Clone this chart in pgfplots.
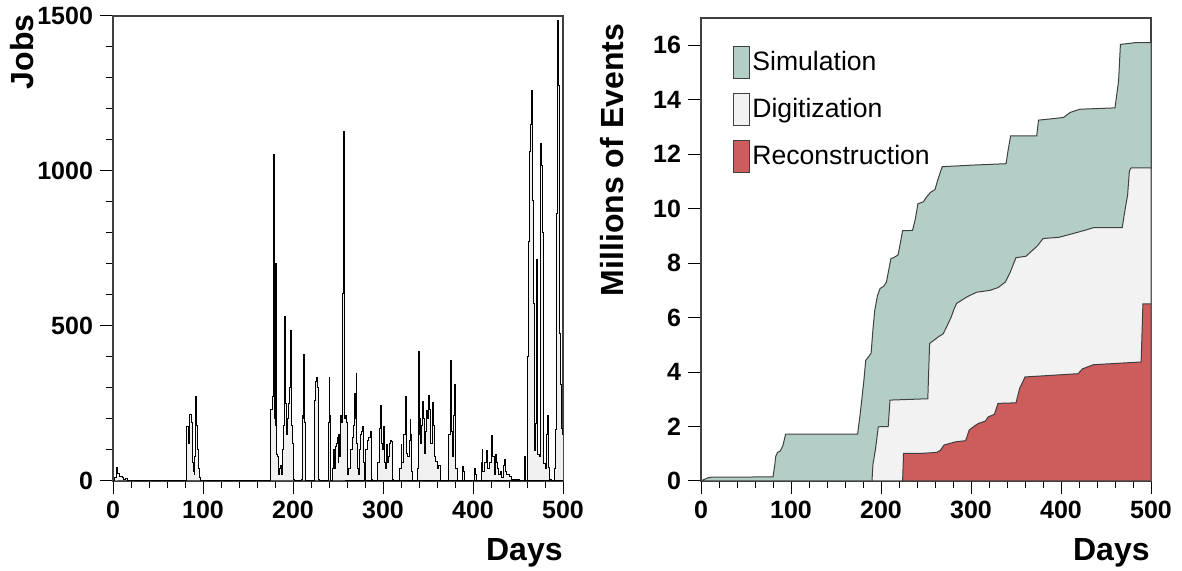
\documentclass[border=0pt]{standalone}
\usepackage{fontspec}
\setmainfont{Liberation Sans}
\usepackage{pgfplots}
\pgfplotsset{compat=1.18}
\definecolor{simcol}{HTML}{B2CEC6}
\definecolor{digcol}{HTML}{F2F2F2}
\definecolor{reccol}{HTML}{CD5C5C}
\pgfplotsset{
  common/.style={
    scale only axis,
    width=225pt,
    xmin=0, xmax=500,
    ymin=0,
    xtick={0,100,...,500},
    minor x tick num=4,
    tick align=outside,
    tick pos=left,
    major tick length=6.5pt,
    minor tick length=3.5pt,
    every tick/.style={black, line width=0.5pt},
    axis line style={black!75, line width=0.6pt},
    tick label style={font=\fontsize{12.5}{14}\selectfont\bfseries},
    /pgf/number format/assume math mode=true,
    /pgf/number format/set thousands separator={},
    clip=true,
  }
}
\begin{document}
\begin{tikzpicture}
\path[use as bounding box] (0,0) rectangle (591pt,285.5pt);
% ---------------- left panel ----------------
\begin{axis}[common,
  at={(56.5pt,45pt)}, anchor=south west,
  height=232.5pt,
  ymax=1500,
  ytick={0,500,1000,1500},
  minor y tick num=4,
]
\addplot[const plot, draw=black, line width=0.5pt, fill=black!6] coordinates {
(0,0) (2,12) (4,43) (5,25) (7,15) (10,12) (12,5) (14,8) (16,3) (18,0)
(82,177) (84,120) (85,215) (87,190) (88,60) (89,30) (90,20) (91,80) (92,274) (93,180) (94,100) (95,40) (96,10) (97,0)
(175,230) (177,274) (178,1052) (179,200) (180,180) (181,703) (182,84) (183,80) (184,20) (185,40) (186,50) (187,20) (188,100) (189,180) (191,532) (192,250) (193,150) (194,200) (195,250) (196,300) (197,487) (198,180) (199,120) (200,110) (201,5) (202,0)
(209,5) (210,210) (211,200) (212,409) (213,190) (214,0)
(224,260) (225,320) (226,333) (227,300) (228,5) (229,0)
(239,190) (240,333) (241,210) (242,0) (244,40) (245,100) (246,40) (247,110) (248,120) (249,140) (250,60) (251,150) (252,80) (253,210) (254,190) (255,605) (256,1126) (257,200) (258,210) (259,190) (260,60) (261,20)
(262,40) (264,100) (266,140) (267,180) (268,283) (269,200) (270,348) (271,120) (272,40) (273,20) (274,100) (275,150) (276,160) (277,177) (278,60) (279,0)
(281,100) (283,130) (284,140) (286,159) (287,5) (288,0)
(294,60) (296,170) (297,242) (298,120) (299,100) (300,150) (301,177) (302,60) (303,40) (304,119) (305,60) (306,80) (307,120) (308,130) (309,127) (310,30) (311,5) (312,0)
(318,40) (320,119) (321,60) (323,150) (325,272) (326,90) (327,80) (329,130) (330,197) (331,150) (332,30) (333,0)
(338,40) (339,417) (340,150) (341,200) (342,120) (343,180) (344,258) (345,200) (346,90) (347,160) (348,229) (349,200) (351,275) (352,230) (353,120) (355,254) (356,180) (357,80) (358,62) (360,40) (362,50) (364,0)
(373,150) (375,390) (376,160) (377,80) (378,210) (379,310) (380,203) (381,40) (383,0)
(388,46) (389,30) (390,0)
(402,40) (403,20) (404,0)
(409,60) (410,103) (411,30) (413,60) (415,97) (416,40) (418,60) (420,120) (421,148) (422,80) (424,20) (425,84) (426,60) (427,40) (428,20) (430,30) (432,10) (434,50) (435,70) (436,30) (437,20) (440,15) (443,5) (447,0) (448,5) (452,0)
(457,78) (458,0) (461,400) (462,772) (463,1062) (464,1150) (465,1261) (466,906) (467,573) (468,97) (469,187) (470,400) (471,713) (472,84) (474,78) (475,1089) (476,1018) (477,800) (478,55) (480,40) (482,150) (483,210) (484,45) (485,5) (487,0)
(491,40) (492,165) (493,864) (494,1487) (495,1277) (496,477) (497,310) (498,170) (499,150) (500,0)
} \closedcycle;
\end{axis}
\node[rotate=90, font=\fontsize{16}{18}\selectfont\bfseries] at (11pt,259.5pt) {Jobs};
\node[anchor=base east, inner sep=0pt, font=\fontsize{16}{18}\selectfont\bfseries] at (281.5pt,5pt) {Days};
% ---------------- right panel ----------------
\begin{axis}[common,
  at={(350.5pt,45pt)}, anchor=south west,
  height=231.5pt,
  ymax=17,
  ytick={0,2,...,16},
  legend image code/.code={\draw[#1] (0pt,-8pt) rectangle (8pt,8pt);},
  legend cell align=left,
  legend style={draw=none, fill=none, at={(rel axis cs:0.071,0.94)}, anchor=north west,
    row sep=7pt, inner sep=0pt, nodes={inner sep=1pt},
    font=\fontsize{13.3}{15}\selectfont},
]
\addplot[draw=black!75, line width=0.5pt, fill=simcol] coordinates {
(0,0) (3,0.05) (8,0.12) (12,0.14) (80,0.15) (82,0.6) (83,0.9) (85,1.05) (88,1.1) (91,1.3) (94,1.72) (174,1.72) (177,2.5) (179,3.1) (181,3.7) (183,4.43) (186,4.55) (189,4.7) (191,5.55) (193,6.25) (196,6.8) (199,7.07) (203,7.15) (206,7.3) (211,8.17) (214,8.2) (219,8.3) (224,9.19) (235,9.2) (238,9.6) (241,10.18) (247,10.25) (250,10.4) (255,10.6) (260,10.7) (263,11.05) (268,11.54) (303,11.6) (339,11.65) (341,12.1) (344,12.67) (373,12.67) (375,13.25) (390,13.3) (403,13.35) (410,13.53) (421,13.65) (460,13.7) (464,14.7) (466,16.03) (484,16.1) (500,16.1)
} \closedcycle;
\addlegendentry{Simulation}
\addplot[draw=black!75, line width=0.5pt, fill=digcol] coordinates {
(190,0) (191,0.6) (194,1.2) (197,1.99) (208,2.0) (210,2.97) (252,3.02) (254,5.05) (258,5.15) (264,5.3) (269,5.4) (272,5.6) (278,6.02) (281,6.3) (284,6.52) (295,6.75) (306,6.93) (321,7.0) (330,7.1) (338,7.3) (343,7.62) (350,8.2) (361,8.25) (374,8.64) (380,8.9) (398,8.95) (415,9.1) (426,9.2) (436,9.3) (468,9.3) (471,9.93) (474,10.5) (476,11.39) (478,11.5) (500,11.5)
} \closedcycle;
\addlegendentry{Digitization}
\addplot[draw=black!75, line width=0.5pt, fill=reccol] coordinates {
(224,0) (225,1.01) (243,1.01) (262,1.05) (266,1.13) (270,1.32) (283,1.44) (294,1.48) (298,1.87) (303,2.0) (308,2.11) (316,2.2) (319,2.35) (326,2.45) (330,2.85) (350,2.87) (354,3.4) (357,3.6) (360,3.82) (419,3.94) (424,4.12) (436,4.27) (489,4.37) (491,6.5) (500,6.5)
} \closedcycle;
\addlegendentry{Reconstruction}
\end{axis}
\node[rotate=90, font=\fontsize{16}{18}\selectfont\bfseries] at (306pt,205.5pt) {Millions of Events};
\node[anchor=base east, inner sep=0pt, font=\fontsize{16}{18}\selectfont\bfseries] at (575pt,5pt) {Days};
\end{tikzpicture}
\end{document}
